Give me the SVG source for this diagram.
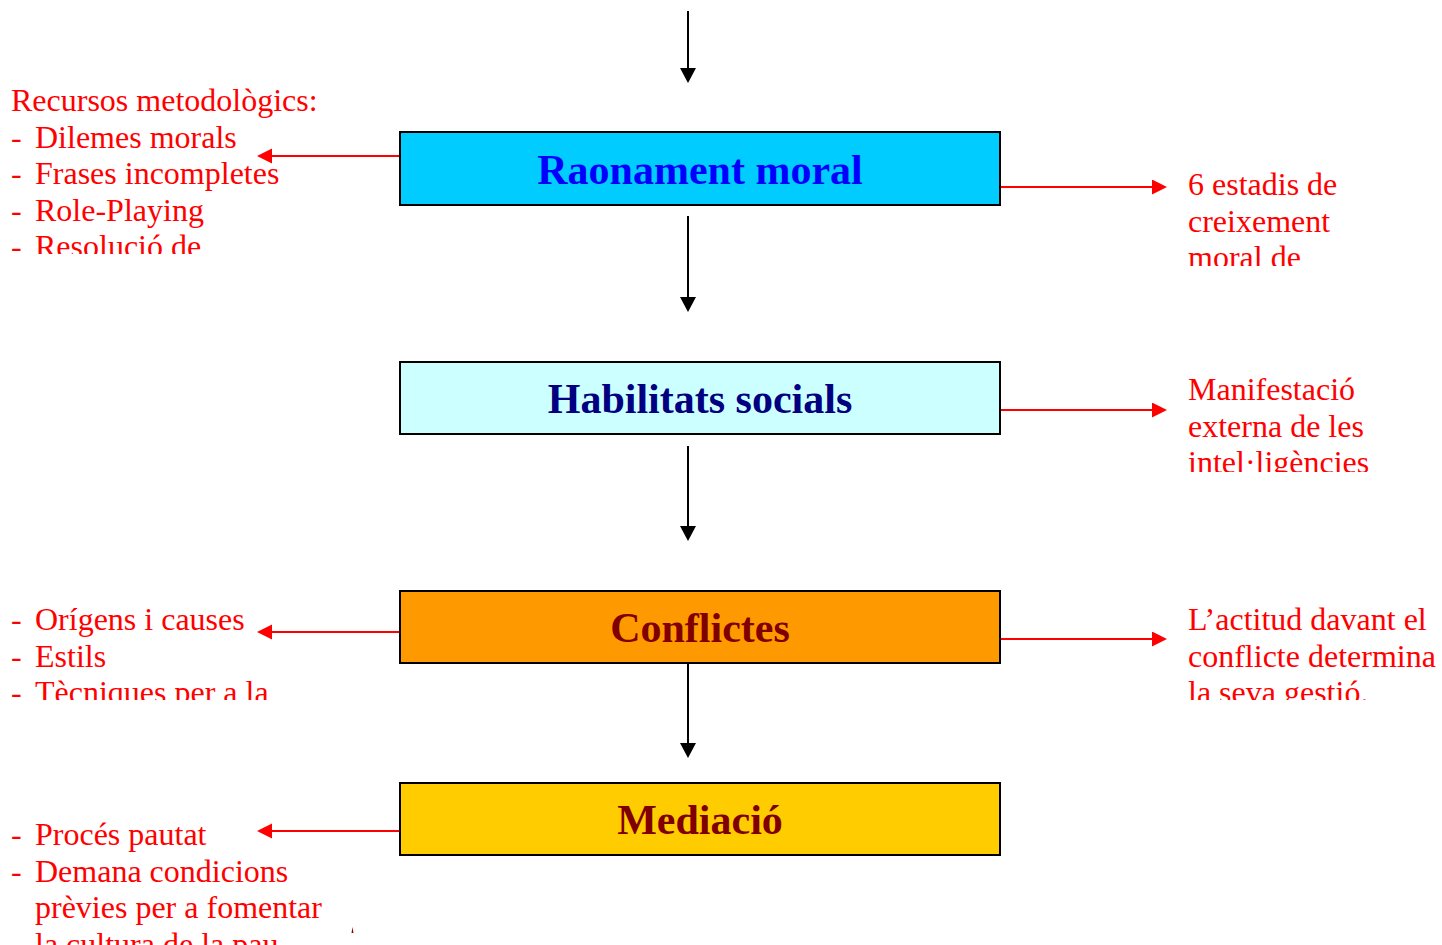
<svg xmlns="http://www.w3.org/2000/svg" width="1442" height="945" viewBox="0 0 1442 945">
  <style>
    .box { stroke: #000; stroke-width: 2; }
    .title { font-family: "Liberation Serif", "Times New Roman", serif; font-weight: bold; font-size: 42px; text-anchor: middle; }
    .note { font-family: "Liberation Serif", "Times New Roman", serif; font-size: 32px; fill: #FF0000; }
    .flow { stroke: #000; stroke-width: 2; fill: none; marker-end: url(#headBlack); }
    .side { stroke: #FF0000; stroke-width: 2; fill: none; marker-end: url(#headRed); }
  </style>
  <defs>
    <marker id="headBlack" markerUnits="userSpaceOnUse" markerWidth="16" markerHeight="16" refX="0" refY="8" orient="auto">
      <path d="M0,0 L15,8 L0,16 z" fill="#000"/>
    </marker>
    <marker id="headRed" markerUnits="userSpaceOnUse" markerWidth="16" markerHeight="16" refX="0" refY="7.5" orient="auto">
      <path d="M0,0 L15,7.5 L0,15 z" fill="#FF0000"/>
    </marker>
    <clipPath id="clipL1"><rect x="0" y="80" width="390" height="174"/></clipPath>
    <clipPath id="clipR1"><rect x="1180" y="160" width="262" height="106"/></clipPath>
    <clipPath id="clipR2"><rect x="1180" y="365" width="262" height="107"/></clipPath>
    <clipPath id="clipL3"><rect x="0" y="595" width="390" height="105"/></clipPath>
    <clipPath id="clipR3"><rect x="1180" y="595" width="262" height="105"/></clipPath>
    <clipPath id="clipL4"><rect x="0" y="805" width="390" height="140"/></clipPath>
  </defs>

  <!-- connectors -->
  <g id="connectors">
    <line class="flow" x1="688" y1="11" x2="688" y2="68"/>
    <line class="flow" x1="688" y1="216" x2="688" y2="297"/>
    <line class="flow" x1="688" y1="446" x2="688" y2="526"/>
    <line class="flow" x1="688" y1="663" x2="688" y2="743"/>

    <line class="side" x1="400" y1="156" x2="272" y2="156"/>
    <line class="side" x1="1000" y1="187" x2="1152" y2="187"/>
    <line class="side" x1="1000" y1="410" x2="1152" y2="410"/>
    <line class="side" x1="400" y1="632" x2="272" y2="632"/>
    <line class="side" x1="1000" y1="639" x2="1152" y2="639"/>
    <line class="side" x1="400" y1="831" x2="272" y2="831"/>
  </g>

  <!-- stages -->
  <g id="raonament">
    <rect class="box" x="400" y="132" width="600" height="73" fill="#00CCFF"/>
    <text class="title" x="700" y="184" fill="#0000FF">Raonament moral</text>
  </g>
  <g id="habilitats">
    <rect class="box" x="400" y="362" width="600" height="72" fill="#CCFFFF"/>
    <text class="title" x="700" y="413" fill="#000080">Habilitats socials</text>
  </g>
  <g id="conflictes">
    <rect class="box" x="400" y="591" width="600" height="72" fill="#FF9900"/>
    <text class="title" x="700" y="642" fill="#800000">Conflictes</text>
  </g>
  <g id="mediacio">
    <rect class="box" x="400" y="783" width="600" height="72" fill="#FFCC00"/>
    <text class="title" x="700" y="834" fill="#800000">Mediació</text>
  </g>

  <!-- side notes -->
  <g id="note-recursos" clip-path="url(#clipL1)">
    <text class="note">
      <tspan x="11" y="111">Recursos metodològics:</tspan>
      <tspan x="11" y="148">-</tspan><tspan x="35" y="148">Dilemes morals</tspan>
      <tspan x="11" y="184">-</tspan><tspan x="35" y="184">Frases incompletes</tspan>
      <tspan x="11" y="221">-</tspan><tspan x="35" y="221">Role-Playing</tspan>
      <tspan x="11" y="257">-</tspan><tspan x="35" y="257">Resolució de</tspan>
    </text>
  </g>
  <g id="note-estadis" clip-path="url(#clipR1)">
    <text class="note">
      <tspan x="1188" y="195">6 estadis de</tspan>
      <tspan x="1188" y="232">creixement</tspan>
      <tspan x="1188" y="268">moral de</tspan>
    </text>
  </g>
  <g id="note-manifestacio" clip-path="url(#clipR2)">
    <text class="note">
      <tspan x="1188" y="400">Manifestació</tspan>
      <tspan x="1188" y="437">externa de les</tspan>
      <tspan x="1188" y="473">intel·ligències</tspan>
    </text>
  </g>
  <g id="note-origens" clip-path="url(#clipL3)">
    <text class="note">
      <tspan x="11" y="630">-</tspan><tspan x="35" y="630">Orígens i causes</tspan>
      <tspan x="11" y="667">-</tspan><tspan x="35" y="667">Estils</tspan>
      <tspan x="11" y="703">-</tspan><tspan x="35" y="703">Tècniques per a la</tspan>
    </text>
  </g>
  <g id="note-actitud" clip-path="url(#clipR3)">
    <text class="note">
      <tspan x="1188" y="630">L’actitud davant el</tspan>
      <tspan x="1188" y="667">conflicte determina</tspan>
      <tspan x="1188" y="703">la seva gestió.</tspan>
    </text>
  </g>
  <g id="note-proces" clip-path="url(#clipL4)">
    <text class="note">
      <tspan x="11" y="845">-</tspan><tspan x="35" y="845">Procés pautat</tspan>
      <tspan x="11" y="882">-</tspan><tspan x="35" y="882">Demana condicions</tspan>
      <tspan x="35" y="918">prèvies per a fomentar</tspan>
      <tspan x="35" y="955">la cultura de la pau</tspan>
    </text>
  </g>
  <path d="M351.5,933 L352.5,927 L353.5,933 z" fill="#990000"/>
</svg>
